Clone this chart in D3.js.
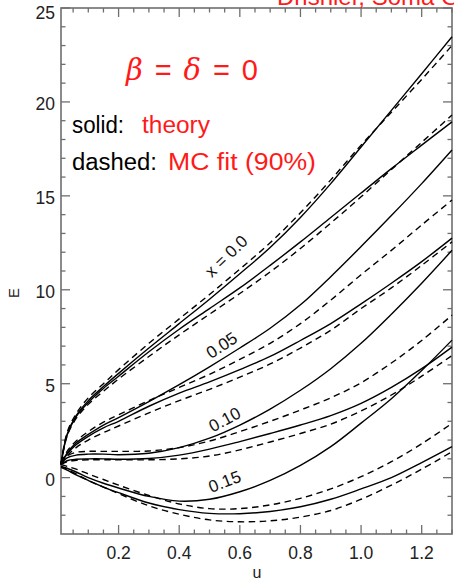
<!DOCTYPE html>
<html>
<head>
<meta charset="utf-8">
<script src="https://cdn.jsdelivr.net/npm/d3@7/dist/d3.min.js"></script>
<style>
  html, body { margin: 0; padding: 0; background: #fff; }
  svg { display: block; }
  text { font-family: "Liberation Sans", Arial, sans-serif; }
</style>
</head>
<body>
<svg id="chart" width="454" height="581"></svg>
<script>
// sample points in u shared by every curve
const uGrid = [0.01, 0.03, 0.06, 0.1, 0.15, 0.2, 0.3, 0.4, 0.5, 0.6, 0.7, 0.8, 0.9, 1.0, 1.1, 1.2, 1.3];

// x = 0.0
const theoryX00a = [0.7, 2.3, 3.3, 4.1, 4.85, 5.55, 6.9, 8.2, 9.5, 10.85, 12.25, 13.85, 15.65, 17.6, 19.55, 21.5, 23.47];
const fitX00a    = [0.75, 2.4, 3.4, 4.25, 5.0, 5.75, 7.15, 8.45, 9.75, 11.1, 12.5, 14.1, 15.85, 17.7, 19.45, 21.2, 23.0];
const theoryX00b = [0.7, 2.25, 3.25, 4.0, 4.75, 5.4, 6.7, 7.9, 9.0, 10.1, 11.3, 12.55, 13.85, 15.15, 16.45, 17.7, 18.94];
const fitX00b    = [0.7, 2.2, 3.15, 3.9, 4.6, 5.25, 6.45, 7.6, 8.7, 9.8, 10.95, 12.2, 13.55, 14.95, 16.4, 17.85, 19.3];
// x = 0.05
const theoryX05a = [0.75, 1.3, 1.85, 2.3, 2.8, 3.2, 4.05, 4.95, 5.9, 6.9, 7.95, 9.2, 10.7, 12.3, 13.95, 15.65, 17.44];
const fitX05a    = [0.8, 1.4, 1.95, 2.45, 2.95, 3.35, 4.1, 4.8, 5.5, 6.3, 7.15, 8.2, 9.45, 10.8, 12.1, 13.45, 14.78];
const theoryX05b = [0.7, 1.25, 1.75, 2.2, 2.65, 3.0, 3.8, 4.5, 5.1, 5.75, 6.45, 7.3, 8.2, 9.25, 10.35, 11.5, 12.75];
const fitX05b    = [0.7, 1.15, 1.6, 2.0, 2.4, 2.75, 3.45, 4.1, 4.7, 5.35, 6.05, 6.9, 7.85, 9.0, 10.1, 11.3, 12.55];
// x = 0.10
const theoryX10a = [0.75, 1.05, 1.2, 1.25, 1.25, 1.22, 1.3, 1.6, 2.1, 2.8, 3.65, 4.65, 5.8, 7.15, 8.7, 10.35, 12.1];
const fitX10a    = [0.75, 1.15, 1.35, 1.4, 1.4, 1.4, 1.42, 1.6, 1.95, 2.45, 3.0, 3.6, 4.25, 5.05, 6.1, 7.3, 8.65];
const theoryX10b = [0.7, 0.9, 0.98, 1.0, 1.0, 0.98, 1.02, 1.2, 1.52, 1.92, 2.35, 2.8, 3.3, 3.95, 4.8, 5.8, 6.95];
const fitX10b    = [0.7, 0.85, 0.92, 0.95, 0.95, 0.95, 0.95, 1.0, 1.15, 1.48, 1.9, 2.35, 2.85, 3.55, 4.4, 5.4, 6.5];
// x = 0.15
const theoryX15a = [0.6, 0.5, 0.3, 0.0, -0.3, -0.55, -1.0, -1.25, -1.15, -0.75, -0.15, 0.65, 1.65, 2.9, 4.2, 5.7, 7.32];
const fitX15a    = [0.7, 0.6, 0.45, 0.2, -0.1, -0.4, -0.95, -1.4, -1.65, -1.65, -1.45, -1.1, -0.6, 0.05, 0.85, 1.8, 2.89];
const theoryX15b = [0.55, 0.4, 0.15, -0.15, -0.5, -0.8, -1.35, -1.7, -1.9, -1.92, -1.8, -1.55, -1.15, -0.6, 0.0, 0.8, 1.65];
const fitX15b    = [0.6, 0.45, 0.2, -0.15, -0.5, -0.85, -1.5, -1.95, -2.25, -2.35, -2.3, -2.1, -1.75, -1.15, -0.4, 0.45, 1.38];

const theoryCurves = [theoryX00a, theoryX00b, theoryX05a, theoryX05b, theoryX10a, theoryX10b, theoryX15a, theoryX15b];
const fitCurves    = [fitX00a, fitX00b, fitX05a, fitX05b, fitX10a, fitX10b, fitX15a, fitX15b];

// curve labels: text, u and E of the label centre, rotation
const curveLabels = ["x = 0.0", "0.05", "0.10", "0.15"];
const labelU      = [0.555, 0.54, 0.55, 0.55];
const labelE      = [11.8, 7.05, 3.1, -0.2];
const labelAngle  = [-44, -33, -28, -21];

const xTicks = [0.2, 0.4, 0.6, 0.8, 1.0, 1.2];
const yTicks = [0, 5, 10, 15, 20, 25];

const svg = d3.select("#chart");
const plotLeft = 61, plotRight = 452, plotTop = 8, plotBottom = 534;

const x = d3.scaleLinear().domain([0.01, 1.3]).range([plotLeft, plotRight]);
const y = d3.scaleLinear().domain([-3, 25]).range([plotBottom, plotTop]);

const axisColor = "#6e6e6e";

// frame
svg.append("rect")
  .attr("x", plotLeft).attr("y", plotTop)
  .attr("width", plotRight - plotLeft).attr("height", plotBottom - plotTop)
  .attr("fill", "none").attr("stroke", axisColor).attr("stroke-width", 1.6);

// ticks on all four sides, pointing inward
const xMinor = d3.range(0.05, 1.3001, 0.05).filter(v => !xTicks.some(t => Math.abs(t - v) < 1e-6));
const yMinor = d3.range(-2, 25, 1).filter(v => v % 5 !== 0);
const tickG = svg.append("g").attr("stroke", axisColor).attr("stroke-width", 1.3);
function xTick(v, len) {
  tickG.append("line").attr("x1", x(v)).attr("x2", x(v)).attr("y1", plotBottom).attr("y2", plotBottom - len);
  tickG.append("line").attr("x1", x(v)).attr("x2", x(v)).attr("y1", plotTop).attr("y2", plotTop + len);
}
function yTick(v, len) {
  tickG.append("line").attr("y1", y(v)).attr("y2", y(v)).attr("x1", plotLeft).attr("x2", plotLeft + len);
  tickG.append("line").attr("y1", y(v)).attr("y2", y(v)).attr("x1", plotRight).attr("x2", plotRight - len);
}
xTicks.forEach(v => xTick(v, 9));
xMinor.forEach(v => xTick(v, 4.5));
yTicks.forEach(v => yTick(v, 9));
yMinor.forEach(v => yTick(v, 4.5));

// tick labels
svg.append("g").selectAll("text").data(xTicks).join("text")
  .attr("x", d => x(d)).attr("y", 559)
  .attr("text-anchor", "middle").attr("font-size", 17.5).attr("fill", "#222")
  .text(d => d.toFixed(1));
svg.append("g").selectAll("text").data(yTicks).join("text")
  .attr("x", 55).attr("y", d => Math.max(y(d) + 8, 19))
  .attr("text-anchor", "end").attr("font-size", 17.5).attr("fill", "#222")
  .text(d => d);

// axis titles
svg.append("text").attr("x", 257).attr("y", 578).attr("text-anchor", "middle")
  .attr("font-size", 16).attr("fill", "#222").text("u");
svg.append("text").attr("transform", "translate(19,293) rotate(-90)").attr("text-anchor", "middle")
  .attr("font-size", 15).attr("fill", "#222").text("E");

// curves
const line = d3.line()
  .x((d, i) => x(uGrid[i]))
  .y(d => y(d))
  .curve(d3.curveCatmullRom.alpha(0.5));

const curveG = svg.append("g").attr("fill", "none").attr("stroke", "#000").attr("stroke-width", 1.4);
curveG.selectAll("path.theory").data(theoryCurves).join("path")
  .attr("class", "theory").attr("d", line);
curveG.selectAll("path.fit").data(fitCurves).join("path")
  .attr("class", "fit").attr("d", line).attr("stroke-dasharray", "6.5,4.5");

// curve labels
svg.append("g").selectAll("text").data(curveLabels).join("text")
  .attr("transform", (d, i) => `translate(${x(labelU[i])},${y(labelE[i])}) rotate(${labelAngle[i]})`)
  .attr("text-anchor", "middle").attr("dy", "0.35em")
  .attr("font-size", 17).attr("fill", "#111")
  .text(d => d);

// annotations
const red = "#ff1a1a";
svg.append("text").attr("x", 277).attr("y", 4.5).attr("font-size", 24).attr("fill", red)
  .text("Drishler, Soma G");

const beta = svg.append("text").attr("x", 126).attr("y", 80).attr("font-size", 29).attr("fill", red)
  .attr("textLength", 132).attr("lengthAdjust", "spacing");
beta.append("tspan").attr("font-style", "italic").attr("font-family", "DejaVu Serif").text("β");
beta.append("tspan").text(" = ");
beta.append("tspan").attr("font-style", "italic").attr("font-family", "DejaVu Serif").text("δ");
beta.append("tspan").text(" = 0");

svg.append("text").attr("x", 72).attr("y", 133).attr("font-size", 23).attr("fill", "#000")
  .attr("textLength", 52).attr("lengthAdjust", "spacingAndGlyphs").text("solid:");
svg.append("text").attr("x", 142).attr("y", 133).attr("font-size", 23).attr("fill", red)
  .attr("textLength", 68).attr("lengthAdjust", "spacingAndGlyphs").text("theory");
svg.append("text").attr("x", 72).attr("y", 170).attr("font-size", 23).attr("fill", "#000")
  .attr("textLength", 85).attr("lengthAdjust", "spacingAndGlyphs").text("dashed:");
svg.append("text").attr("x", 168).attr("y", 170).attr("font-size", 23).attr("fill", red)
  .attr("textLength", 148).attr("lengthAdjust", "spacingAndGlyphs").text("MC fit (90%)");
</script>
</body>
</html>
